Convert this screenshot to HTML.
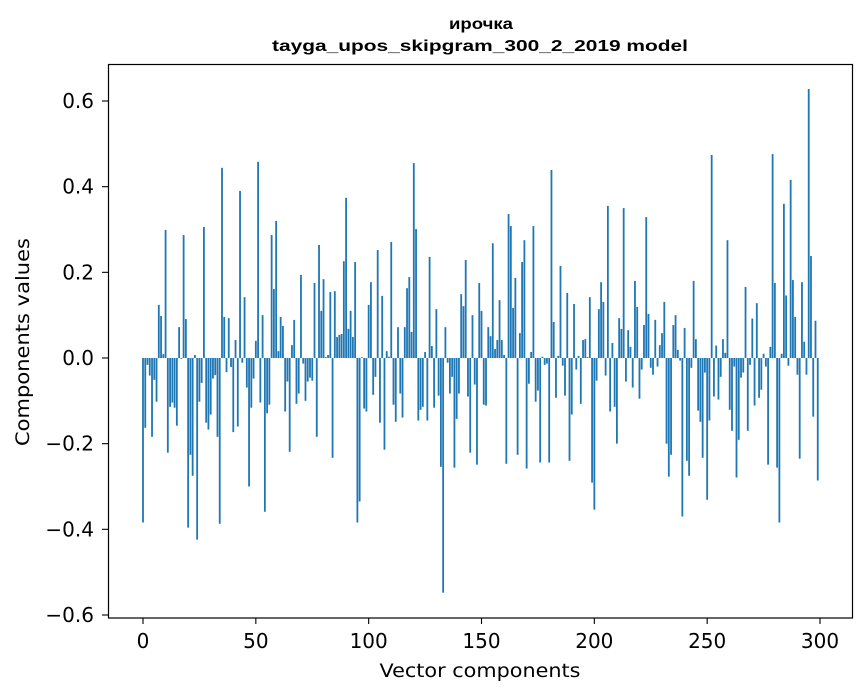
<!DOCTYPE html>
<html><head><meta charset="utf-8"><style>
body{margin:0;background:#fff;}
svg{display:block;font-family:"DejaVu Sans","Liberation Sans",sans-serif;}
</style></head><body>
<svg id="chart" width="867" height="696" viewBox="0 0 867 696" xmlns="http://www.w3.org/2000/svg">
<rect x="0" y="0" width="867" height="696" fill="#fff"/>
<text x="481" y="29" text-anchor="middle" font-size="16" font-weight="bold" font-family="Liberation Sans" textLength="64" lengthAdjust="spacingAndGlyphs">ирочка</text>
<text x="480" y="51" text-anchor="middle" font-size="16" font-weight="bold" font-family="Liberation Sans" textLength="416" lengthAdjust="spacingAndGlyphs">tayga_upos_skipgram_300_2_2019 model</text>
<g id="bars"></g>
<g id="axes"></g>
<rect x="108.5" y="64.5" width="744" height="553.5" fill="none" stroke="#000" stroke-width="1.2"/>
<text x="480" y="677" text-anchor="middle" font-size="19" textLength="201" lengthAdjust="spacingAndGlyphs">Vector components</text>
<text transform="translate(29,342) rotate(-90)" text-anchor="middle" font-size="19" textLength="208" lengthAdjust="spacingAndGlyphs">Components values</text>
</svg>
<script>
const values = [
-0.384,-0.163,-0.016,-0.041,-0.184,-0.051,-0.102,0.124,0.098,0.009,
0.299,-0.221,-0.114,-0.104,-0.116,-0.158,0.072,-0.002,0.287,0.091,
-0.396,-0.226,-0.275,0.007,-0.424,-0.102,-0.058,0.306,-0.151,-0.167,
-0.132,-0.048,-0.040,-0.184,-0.387,0.444,0.096,-0.033,0.093,-0.021,
-0.173,0.042,-0.160,0.390,-0.011,0.142,-0.069,-0.300,-0.116,-0.048,
0.040,0.458,-0.104,0.100,-0.359,-0.129,-0.109,0.287,0.161,0.320,
0.016,0.096,0.075,-0.125,-0.055,-0.219,0.030,0.089,-0.107,-0.083,
0.194,-0.013,-0.100,-0.055,-0.046,-0.053,0.175,-0.184,0.264,0.110,
0.184,0.002,0.007,0.154,-0.233,0.156,0.049,0.054,0.056,0.226,
0.374,0.068,0.110,0.049,0.224,-0.384,-0.335,0.002,-0.118,-0.125,
0.124,0.177,-0.086,-0.044,0.252,-0.151,0.145,-0.214,0.016,0.003,
0.271,-0.109,-0.149,0.072,-0.083,-0.139,0.072,0.163,0.189,0.061,
0.455,0.301,-0.146,-0.121,-0.114,0.014,-0.146,0.236,0.028,-0.116,
0.114,-0.088,-0.254,-0.548,0.072,-0.011,-0.083,-0.044,-0.256,-0.142,
-0.083,0.149,0.121,0.229,-0.090,-0.221,0.100,-0.062,-0.249,0.175,
0.110,-0.109,-0.111,0.072,0.051,0.268,0.021,0.042,0.135,0.042,
0.007,-0.247,0.336,0.308,0.117,0.187,-0.226,0.058,0.224,0.275,
-0.258,-0.060,0.014,0.308,-0.102,-0.076,-0.244,0.003,-0.016,-0.013,
-0.244,0.439,0.084,-0.093,0.005,0.215,-0.018,-0.088,0.152,-0.240,
-0.132,0.126,-0.027,0.005,-0.107,0.042,0.044,0.002,0.142,-0.291,
-0.354,-0.053,0.114,0.177,0.131,-0.041,0.355,-0.125,0.035,-0.114,
-0.200,0.093,0.068,0.350,-0.055,0.065,0.026,-0.069,0.180,0.119,
-0.095,-0.027,0.077,0.329,0.103,-0.023,-0.039,0.089,-0.020,0.030,
0.058,0.131,-0.200,-0.277,-0.226,0.077,0.100,0.019,-0.006,-0.370,
0.070,-0.240,-0.275,-0.023,0.180,0.044,-0.123,-0.149,-0.233,-0.034,
-0.331,-0.146,0.474,-0.090,0.029,-0.097,-0.044,0.044,0.012,0.275,
-0.121,-0.170,-0.020,-0.279,-0.191,-0.046,-0.034,0.166,-0.170,-0.016,
0.092,-0.111,0.128,-0.093,-0.074,0.010,-0.020,-0.249,0.026,0.476,
0.175,-0.256,-0.384,0.010,0.360,0.146,-0.018,0.416,0.182,0.096,
-0.039,-0.235,0.177,0.038,-0.039,0.628,0.238,-0.137,0.087,-0.286
];
const xTicks = [0,50,100,150,200,250,300];
const yTicks = [-0.6,-0.4,-0.2,0.0,0.2,0.4,0.6];
const yTickLabels = ["\u22120.6","\u22120.4","\u22120.2","0.0","0.2","0.4","0.6"];

const NS="http://www.w3.org/2000/svg";
function xs(v){return 143 + v*(677/300);}
function ys(v){return 358 - v*(257/0.6);}
const bars=document.getElementById('bars');
values.forEach((v,i)=>{
  const r=document.createElementNS(NS,'rect');
  
  
  const x0=xs(i-0.4), x1=xs(i+0.4);
  const y0=ys(Math.max(v,0)), y1=ys(Math.min(v,0));
  r.setAttribute('x',x0);r.setAttribute('width',x1-x0);
  r.setAttribute('y',y0);r.setAttribute('height',Math.max(y1-y0,0.3));
  r.setAttribute('fill','#1f77b4');
  bars.appendChild(r);
});
const axes=document.getElementById('axes');
xTicks.forEach(t=>{
  const x=xs(t);
  const l=document.createElementNS(NS,'line');
  
  
  l.setAttribute('x1',x);l.setAttribute('x2',x);l.setAttribute('y1',618);l.setAttribute('y2',624);
  l.setAttribute('stroke','#000');l.setAttribute('stroke-width','1.1');
  axes.appendChild(l);
  const tx=document.createElementNS(NS,'text');
  
  
  tx.setAttribute('x',x);tx.setAttribute('y',648);tx.setAttribute('text-anchor','middle');tx.setAttribute('font-size','20');
  tx.textContent=String(t);
  axes.appendChild(tx);
});
yTicks.forEach((t,k)=>{
  const y=ys(t);
  const l=document.createElementNS(NS,'line');
  
  
  l.setAttribute('x1',102);l.setAttribute('x2',108);l.setAttribute('y1',y);l.setAttribute('y2',y);
  l.setAttribute('stroke','#000');l.setAttribute('stroke-width','1.1');
  axes.appendChild(l);
  const tx=document.createElementNS(NS,'text');
  
  
  tx.setAttribute('x',94);tx.setAttribute('y',y+7);tx.setAttribute('text-anchor','end');tx.setAttribute('font-size','20');
  tx.textContent=yTickLabels[k];
  axes.appendChild(tx);
});
</script>
</body></html>
